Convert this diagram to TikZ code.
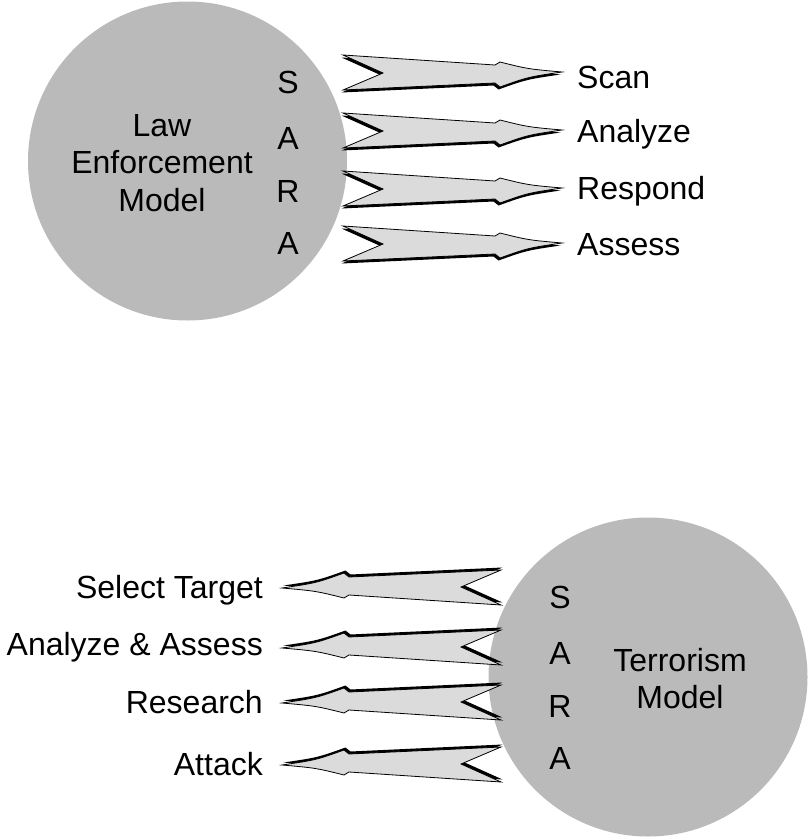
\documentclass[tikz,border=0pt]{standalone}
\usepackage{fontspec}
\setmainfont{Liberation Sans}
\definecolor{discgray}{gray}{0.73}
\definecolor{arrowfill}{gray}{0.86}

% outline of one block arrow, tip at the origin, pointing right
\newcommand\blockarrowpath[1]{%
  \path[#1] (-219,-17) -- (-179,1) -- (-219,18) -- (-67,11) -- (-62,15)
    .. controls (-34,5) .. (0,0)
    .. controls (-34,-3) .. (-62,-10) -- (-67,-7) -- cycle;}

\tikzset{
  blockarrow/.pic={
    \blockarrowpath{fill=black, shift={(-1.5,2.5)}}
    \blockarrowpath{draw=black, fill=arrowfill, line width=0.8pt, line join=miter}
  },
  disc/.style={circle, fill=discgray, inner sep=0pt, minimum size=319pt},
  txt/.style={font=\fontsize{32}{37.5}\selectfont, inner sep=0pt,
    text height=22.9pt, text depth=0pt},
  block/.style={font=\fontsize{32}{37.5}\selectfont, inner sep=0pt, align=center},
}

\begin{document}
\begin{tikzpicture}[x=1pt, y=-1pt]
\useasboundingbox (0,0) rectangle (808,838);

% ---- law enforcement model ----
\node[disc] (lem) at (187.5,161) {};
\node[block] (lemtext) at (162,163) {Law\\Enforcement\\Model};
\node[txt] (ls) at (288,82)  {S};
\node[txt] (la1) at (288,138) {A};
\node[txt] (lr) at (288,191) {R};
\node[txt] (la2) at (288,243) {A};

\coordinate (t1) at (562,72);
\coordinate (t2) at (562,130);
\coordinate (t3) at (562,188);
\coordinate (t4) at (562,243);
\foreach \c in {t1,t2,t3,t4} \pic at (\c) {blockarrow};

\node[txt, anchor=west] (scan)    at (577,77)  {Scan};
\node[txt, anchor=west] (analyze) at (577,131) {Analyze};
\node[txt, anchor=west] (respond) at (577,188) {Respond};
\node[txt, anchor=west] (assess)  at (577,244) {Assess};

% ---- terrorism model ----
\node[disc] (tm) at (648,677) {};
\node[block] (tmtext) at (680,678.5) {Terrorism\\Model};
\node[txt] (ts) at (560,597) {S};
\node[txt] (ta1) at (560,653) {A};
\node[txt] (tr) at (560,706) {R};
\node[txt] (ta2) at (560,758) {A};

\coordinate (b1) at (282,588);
\coordinate (b2) at (282,648);
\coordinate (b3) at (282,703);
\coordinate (b4) at (282,765);
\foreach \c in {b1,b2,b3,b4} \pic[rotate=180] at (\c) {blockarrow};

\node[txt, anchor=east] (select)   at (263,587) {Select Target};
\node[txt, anchor=east] (anassess) at (263,644) {Analyze \& Assess};
\node[txt, anchor=east] (research) at (263,702) {Research};
\node[txt, anchor=east] (attack)   at (263,764) {Attack};
\end{tikzpicture}
\end{document}
